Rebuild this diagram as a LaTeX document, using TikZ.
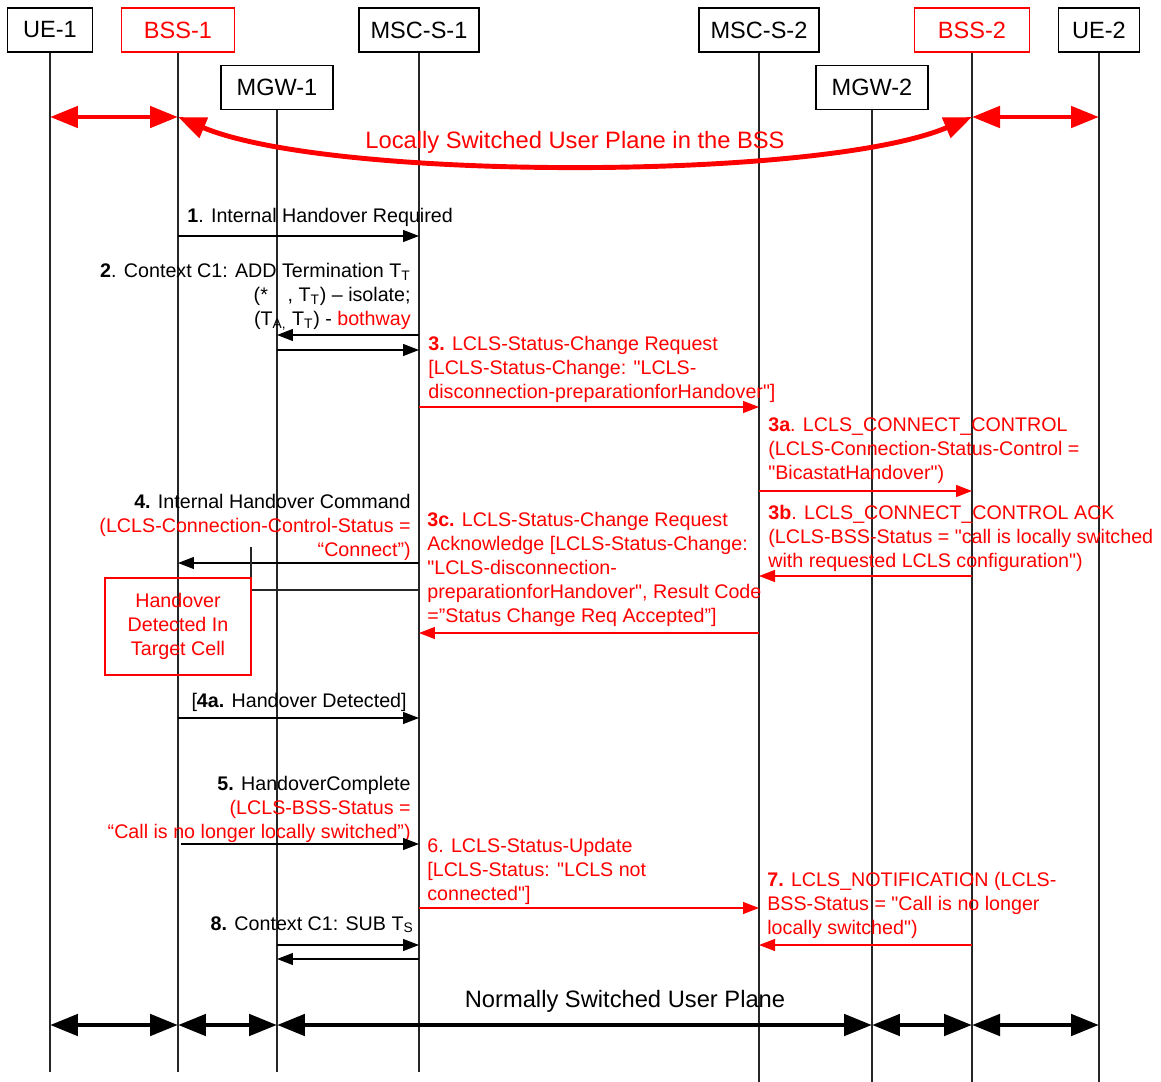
\documentclass[tikz,border=0pt]{standalone}
\usepackage{fontspec}
\setmainfont{Liberation Sans}[Ligatures=TeXOff]
\usepackage{xcolor}
\usetikzlibrary{arrows.meta}

\begin{document}
\begin{tikzpicture}[x=0.02cm,y=-0.02cm,font=\fontsize{11.2}{13.7}\selectfont,inner sep=0pt,
  entity/.style={draw,line width=0.7pt,minimum height=0.88cm,font=\fontsize{13.4}{16}\selectfont},
  life/.style={line width=0.6pt,black!85},
  msg/.style={line width=0.6pt,-{Triangle[length=0.32cm,width=0.24cm]}},
  plane/.style={line width=2.8pt,{Triangle[length=0.56cm,width=0.42cm]}-{Triangle[length=0.56cm,width=0.42cm]}},
  big/.style={font=\fontsize{13.5}{16}\selectfont}]
\useasboundingbox (0,0) rectangle (1161,1082);
\node[entity,minimum width=1.7cm] (ue1) at (50,30) {UE-1};
\node[entity,draw=red,text=red,minimum width=2.26cm] (bss1) at (178,30) {BSS-1};
\node[entity,minimum width=2.24cm] (mgw1) at (277,87.5) {MGW-1};
\node[entity,minimum width=2.4cm] (msc1) at (419,30) {MSC-S-1};
\node[entity,minimum width=2.4cm] (msc2) at (759,30) {MSC-S-2};
\node[entity,minimum width=2.24cm] (mgw2) at (872,87.5) {MGW-2};
\node[entity,draw=red,text=red,minimum width=2.3cm] (bss2) at (972,30) {BSS-2};
\node[entity,minimum width=1.62cm] (ue2) at (1099,30) {UE-2};
\foreach \n/\e in {ue1/1072,bss1/1072,mgw1/1072,msc1/1072,msc2/1082,mgw2/1082,bss2/1082,ue2/1082}
  \draw[life] (\n.south) -- (\n |- 0,\e);

\draw[plane,red] (ue1 |- 0,117) -- (bss1 |- 0,117);
\draw[plane,red] (bss2 |- 0,117) -- (ue2 |- 0,117);
\draw[plane,red] (bss1 |- 0,117) .. controls (330,181) and (820,181) .. (bss2 |- 0,117);
\node[big,text=red] (lsup) at (575,142) {Locally Switched User Plane in the BSS};

\node[anchor=base west] (l1) at (187,222) {\textbf{1}. Internal Handover Required};
\draw[msg] (bss1 |- 0,236) -- (msc1 |- 0,236);
\node[anchor=north east,align=right] (l2) at (411,263) {\textbf{2}. Context C1: ADD Termination T\textsubscript{T}\\(*\quad, T\textsubscript{T}) – isolate;\\(T\textsubscript{A,} T\textsubscript{T}) - \textcolor{red}{bothway}};
\draw[msg] (msc1 |- 0,335) -- (mgw1 |- 0,335);
\draw[msg] (mgw1 |- 0,350) -- (msc1 |- 0,350);
\node[anchor=north west,align=left,text=red] (l3) at (428,336) {\textbf{3.} LCLS-Status-Change Request\\{[}LCLS-Status-Change: "LCLS-\\disconnection-preparationforHandover"{]}};
\draw[msg,red] (msc1 |- 0,407) -- (msc2 |- 0,407);
\node[anchor=north west,align=left,text=red] (l3a) at (768,417) {\textbf{3a}. LCLS\_CONNECT\_CONTROL\\(LCLS-Connection-Status-Control =\\"BicastatHandover")};
\draw[msg,red] (msc2 |- 0,491) -- (bss2 |- 0,491);
\node[anchor=north west,align=left,text=red] (l3b) at (768,505) {\textbf{3b}. LCLS\_CONNECT\_CONTROL ACK\\(LCLS-BSS-Status = "call is locally switched\\with requested LCLS configuration")};
\draw[msg,red] (bss2 |- 0,576) -- (msc2 |- 0,576);
\node[anchor=north east,align=right] (l4) at (411,494) {\textbf{4.} Internal Handover Command\\\textcolor{red}{(LCLS-Connection-Control-Status =}\\\textcolor{red}{“Connect”)}};
\draw[msg] (msc1 |- 0,563) -- (bss1 |- 0,563);
\draw[life] (251,547) -- (251,590) -- (msc1 |- 0,590);
\node[draw=red,text=red,line width=0.7pt,minimum width=2.92cm,minimum height=1.94cm,align=center] (hodet) at (178,626.5) {Handover\\Detected In\\Target Cell};
\node[anchor=north west,align=left,text=red] (l3c) at (427,512) {\textbf{3c.} LCLS-Status-Change Request\\Acknowledge {[}LCLS-Status-Change:\\"LCLS-disconnection-\\preparationforHandover", Result Code\\=”Status Change Req Accepted”{]}};
\draw[msg,red] (msc2 |- 0,633) -- (msc1 |- 0,633);

\node[anchor=base east] (l4a) at (407,707) {[\textbf{4a.} Handover Detected]};
\draw[msg] (bss1 |- 0,718) -- (msc1 |- 0,718);
\node[anchor=north east,align=right] (l5) at (411,776) {\textbf{5.} HandoverComplete\\\textcolor{red}{(LCLS-BSS-Status =}\\\textcolor{red}{“Call is no longer locally switched”)}};
\draw[msg] (181,844) -- (msc1 |- 0,844);
\node[anchor=north west,align=left,text=red] (l6) at (427,838) {6. LCLS-Status-Update\\{[}LCLS-Status: "LCLS not\\connected"{]}};
\draw[msg,red] (msc1 |- 0,908) -- (msc2 |- 0,908);
\node[anchor=north west,align=left,text=red] (l7) at (767,872) {\textbf{7.} LCLS\_NOTIFICATION (LCLS-\\BSS-Status = "Call is no longer\\locally switched")};
\draw[msg,red] (bss2 |- 0,945) -- (msc2 |- 0,945);
\node[anchor=base east] (l8) at (414,930) {\textbf{8.} Context C1: SUB T\textsubscript{S}};
\draw[msg] (mgw1 |- 0,945) -- (msc1 |- 0,945);
\draw[msg] (msc1 |- 0,959) -- (mgw1 |- 0,959);

\node[big] (nsup) at (625,1001) {Normally Switched User Plane};
\draw[plane] (ue1 |- 0,1025) -- (bss1 |- 0,1025);
\draw[plane] (bss1 |- 0,1025) -- (mgw1 |- 0,1025);
\draw[plane] (mgw1 |- 0,1025) -- (mgw2 |- 0,1025);
\draw[plane] (mgw2 |- 0,1025) -- (bss2 |- 0,1025);
\draw[plane] (bss2 |- 0,1025) -- (ue2 |- 0,1025);
\end{tikzpicture}
\end{document}
